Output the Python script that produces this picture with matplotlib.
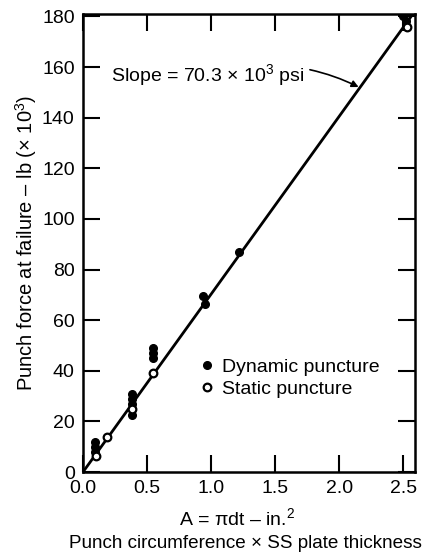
import matplotlib
matplotlib.use("Agg")
import matplotlib.pyplot as plt
import numpy as np

plt.rcParams['font.family'] = ['Liberation Sans', 'DejaVu Sans']
plt.rcParams['mathtext.fontset'] = 'custom'
plt.rcParams['mathtext.rm'] = 'Liberation Sans'
plt.rcParams['mathtext.it'] = 'Liberation Sans:italic'
plt.rcParams['mathtext.default'] = 'rm'

# Data
dyn_x = [0.09, 0.09, 0.09, 0.38, 0.38, 0.38, 0.38, 0.55, 0.55, 0.55, 0.94, 0.95, 1.22, 2.50, 2.52]
dyn_y = [12.0, 10.0, 8.0, 31.0, 29.0, 27.0, 22.5, 49.0, 47.0, 45.0, 69.5, 66.5, 87.0, 180.0, 178.0]
stat_x = [0.10, 0.19, 0.38, 0.55, 2.53]
stat_y = [6.5, 14.0, 25.0, 39.0, 176.0]
slope = 70.3
fit_x = [0.0, 2.56]

xticks = [0.0, 0.5, 1.0, 1.5, 2.0, 2.5]
yticks = [0, 20, 40, 60, 80, 100, 120, 140, 160, 180]

W, H = 430, 555
fig = plt.figure(figsize=(4.3, 5.55), dpi=100)
ax = fig.add_axes([0.193, 0.1495, 0.772, 0.8255])

fx = np.array(fit_x)
ax.plot(fx, slope * fx, color='black', lw=2.0, zorder=2)
ax.plot(dyn_x, dyn_y, 'o', color='black', ms=5.5, zorder=3, label='Dynamic puncture')
ax.plot(stat_x, stat_y, 'o', mfc='white', mec='black', mew=1.6, ms=5.5, zorder=4,
        label='Static puncture')

ax.set_xlim(0, 2.59)
ax.set_ylim(0, 181)
ax.set_xticks(xticks)
ax.set_xticklabels([f"{v:.1f}" for v in xticks])
ax.set_yticks(yticks)
ax.tick_params(direction='in', length=12, width=1.5, top=True, right=True,
               labelsize=14, pad=6, colors='black')
for s in ax.spines.values():
    s.set_linewidth(1.8)

fig.text(237 / W, 1 - 518 / H, "A = \u03c0dt \u2013 in.$^{2}$", fontsize=14,
         ha='center', va='center')
fig.text(245 / W, 1 - 543 / H, "Punch circumference \u00d7 SS plate thickness", fontsize=13.6,
         ha='center', va='center')
ax.set_ylabel("Punch force at failure \u2013 lb (\u00d7 10$^{3}$)", fontsize=14.5, labelpad=2)

ax.annotate("Slope = 70.3 \u00d7 10$^{3}$ psi", xy=(2.16, slope * 2.16), xytext=(0.22, 157),
            fontsize=14, va='center', ha='left',
            arrowprops=dict(arrowstyle='-|>', color='black', lw=1.2,
                            connectionstyle='arc3,rad=-0.2', shrinkA=2, shrinkB=1,
                            mutation_scale=10))

ax.legend(loc='center left', bbox_to_anchor=(0.32, 0.205), frameon=False, fontsize=14,
          handletextpad=0.3, handlelength=1.0, borderaxespad=0, labelspacing=0.25)

fig.savefig("out.png", dpi=100)
